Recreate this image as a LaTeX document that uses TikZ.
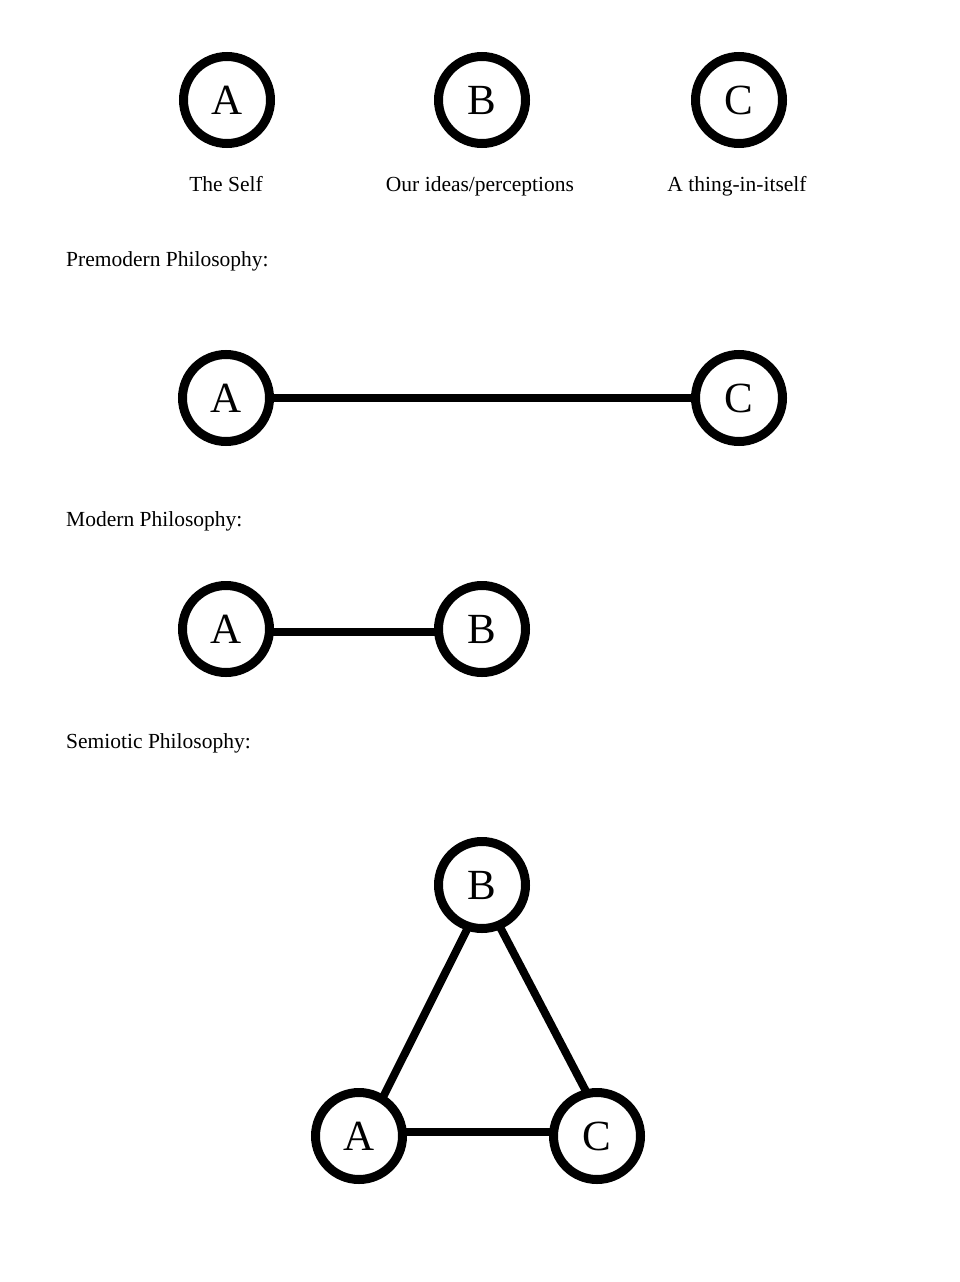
\documentclass[tikz,border=0pt]{standalone}
\usepackage{fontspec}
\newfontfamily\labelfont{Liberation Serif}
\begin{document}
\begin{tikzpicture}[x=1pt,y=-1pt,
  letternode/.style={circle, draw, line width=9pt, minimum size=87pt, inner sep=0pt, outer sep=0pt, font=\labelfont\fontsize{43}{43}\selectfont},
  labeltext/.style={font=\labelfont\fontsize{21.5}{24}\selectfont, inner sep=0pt, anchor=base},
  headtext/.style={font=\labelfont\fontsize{21.5}{24}\selectfont, inner sep=0pt, anchor=base west},
  link/.style={line width=8pt}]
\useasboundingbox (0,0) rectangle (960,1282);
% legend
\node[letternode] (tA) at (227,100) {A};
\node[letternode] (tB) at (482,100) {B};
\node[letternode] (tC) at (739,100) {C};
\node[labeltext] (lA) at (226,191) {The Self};
\node[labeltext] (lB) at (480,191) {Our ideas/perceptions};
\node[labeltext] (lC) at (737,191) {A thing-in-itself};
% premodern
\node[headtext] (h1) at (66,266) {Premodern Philosophy:};
\node[letternode] (pA) at (226,398) {A};
\node[letternode] (pC) at (739,398) {C};
\draw[link] (pA.0) -- (pC.180);
% modern
\node[headtext] (h2) at (66,526) {Modern Philosophy:};
\node[letternode] (mA) at (226,629) {A};
\node[letternode] (mB) at (482,629) {B};
\draw[link] (mA.-4) -- (mB.184);
% semiotic
\node[headtext] (h3) at (66,748) {Semiotic Philosophy:};
\node[letternode] (sB) at (482,885) {B};
\node[letternode] (sA) at (359,1136) {A};
\node[letternode] (sC) at (597,1136) {C};
\draw[link] (sB.252) -- (sA.58);
\draw[link] (sB.293) -- (sC.103);
\draw[link] (sA.5) -- (sC.175);
\end{tikzpicture}
\end{document}
